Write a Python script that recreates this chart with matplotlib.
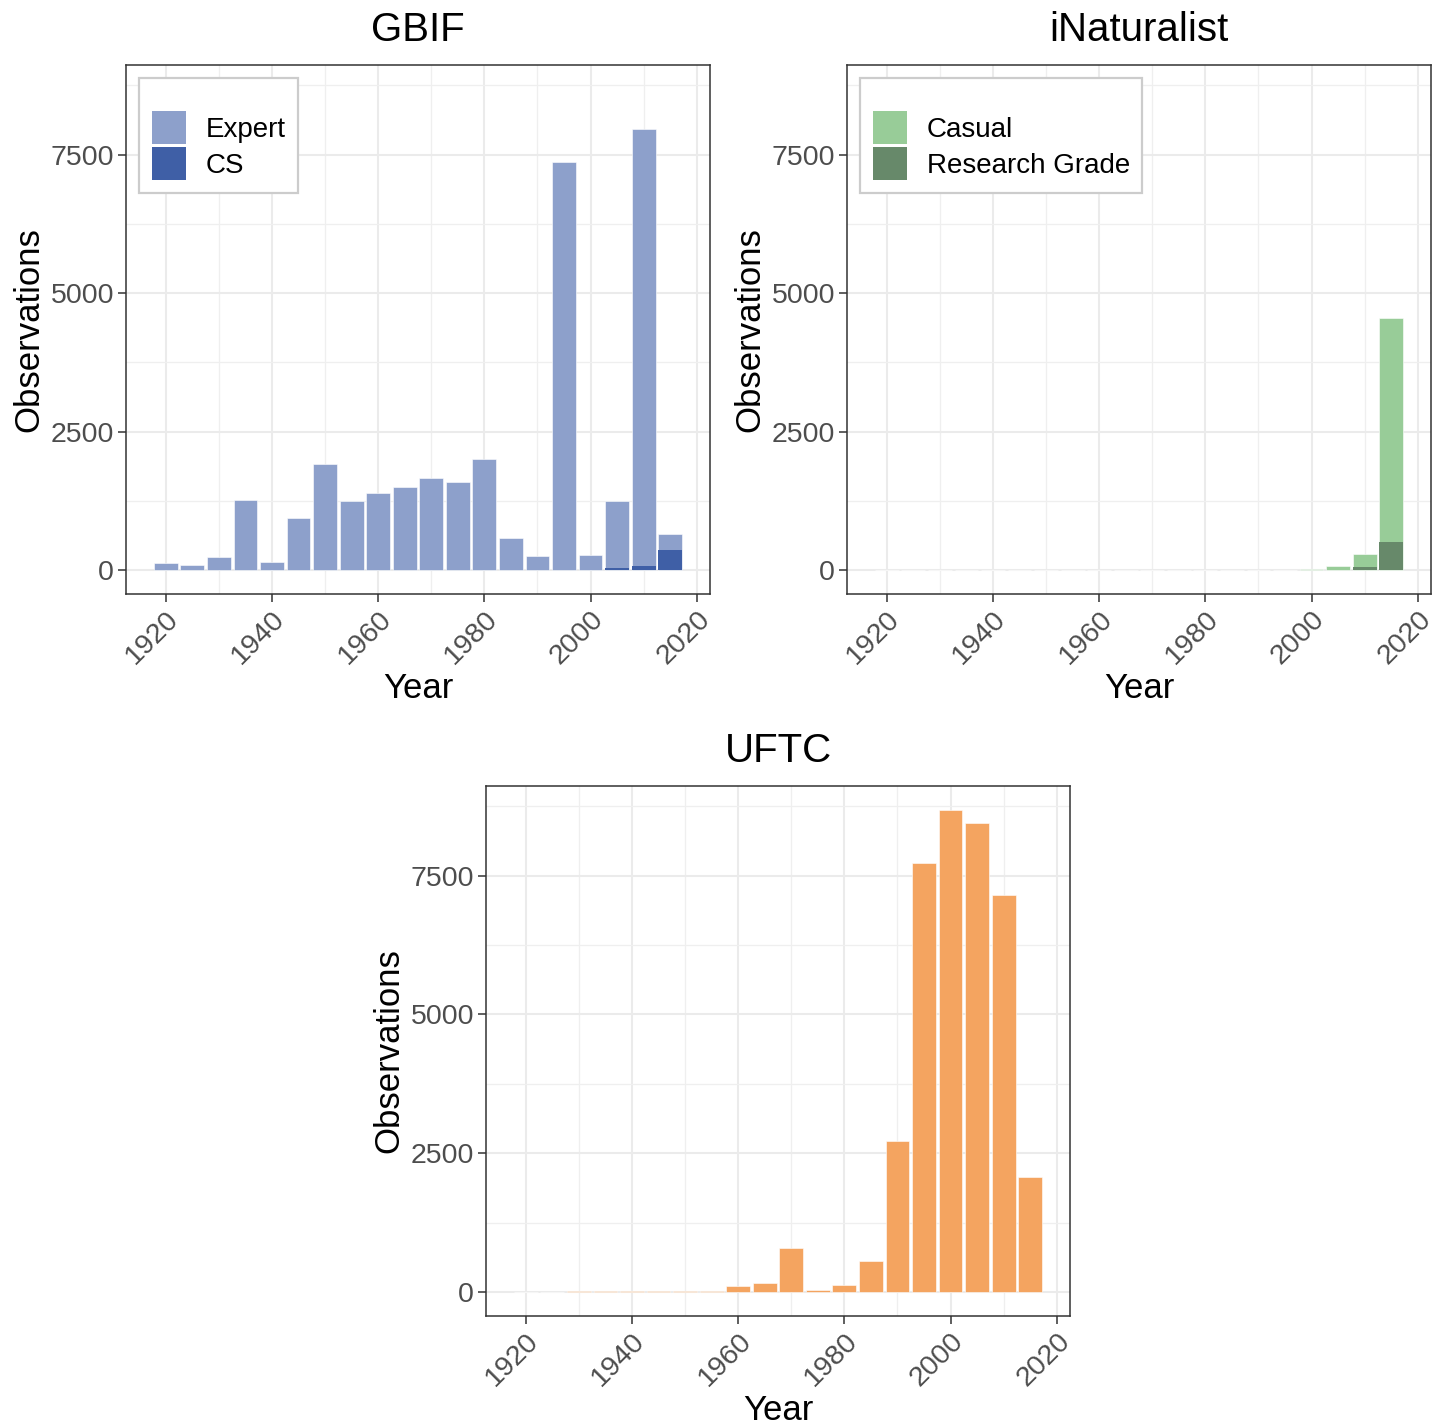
import numpy as np
import matplotlib
matplotlib.use("Agg")
import matplotlib.pyplot as plt
from matplotlib.patches import Patch

plt.rcParams["font.family"] = ["Liberation Sans", "DejaVu Sans"]

# 5-year bins, labelled by bin centre
years = [1920, 1925, 1930, 1935, 1940, 1945, 1950, 1955, 1960, 1965,
         1970, 1975, 1980, 1985, 1990, 1995, 2000, 2005, 2010, 2015]

gbif_expert = [125, 95, 227, 1260, 143, 932, 1905, 1254, 1398, 1505,
               1661, 1589, 1995, 573, 245, 7366, 275, 1242, 7957, 657]
gbif_cs = [0, 0, 0, 0, 0, 0, 0, 0, 0, 0,
           0, 0, 0, 0, 0, 0, 0, 30, 77, 353]

inat_casual = [0, 0, 0, 0, 0, 0, 0, 0, 0, 0,
               0, 0, 0, 0, 0, 0, 12, 77, 287, 4552]
inat_research = [0, 0, 0, 0, 0, 0, 0, 0, 0, 0,
                 0, 0, 0, 0, 0, 0, 0, 0, 50, 507]

uftc = [0, 0, 15, 20, 20, 20, 10, 10, 113, 161,
        784, 36, 126, 551, 2711, 7730, 8684, 8456, 7145, 2070]

W, H = 1442, 1424
fig = plt.figure(figsize=(W / 100, H / 100), dpi=100)

def px_axes(x0, y0, x1, y1):
    return fig.add_axes([x0 / W, 1 - y1 / H, (x1 - x0) / W, (y1 - y0) / H])

def style(ax, title):
    ax.set_xlim(1912.5, 2022.5)
    ax.set_ylim(-434, 9118)
    ax.set_xticks([1920, 1940, 1960, 1980, 2000, 2020])
    ax.set_xticks([1930, 1950, 1970, 1990, 2010], minor=True)
    ax.set_yticks([0, 2500, 5000, 7500])
    ax.set_yticks([1250, 3750, 6250, 8750], minor=True)
    ax.grid(which="major", color="#EBEBEB", linewidth=1.5)
    ax.grid(which="minor", color="#EFEFEF", linewidth=0.9)
    ax.set_axisbelow(True)
    for s in ax.spines.values():
        s.set_color("#333333")
        s.set_linewidth(1.1)
    ax.tick_params(which="major", length=5.5, width=1.1, color="#333333",
                   labelsize=20.5, labelcolor="#4D4D4D", pad=3)
    ax.tick_params(which="minor", length=0)
    for lab in ax.get_xticklabels():
        lab.set_rotation(45)
        lab.set_ha("right")
        lab.set_va("top")
        lab.set_rotation_mode("anchor")
    ax.set_title(title, fontsize=29, pad=17)
    ax.set_xlabel("Year", fontsize=25, labelpad=2)
    ax.set_ylabel("Observations", fontsize=25, labelpad=4)

def add_legend(ax, handles):
    leg = ax.legend(handles=handles, loc="upper left",
                    bbox_to_anchor=(13 / 584, 1 - 13 / 529),
                    borderaxespad=0, fontsize=20, title=" ",
                    title_fontsize=13, handlelength=1.25, handleheight=1.45,
                    labelspacing=0.12, handletextpad=0.7, borderpad=0.45,
                    fancybox=False, framealpha=1, edgecolor="#CCCCCC")
    leg.get_frame().set_linewidth(1.6)

bw = 4.5

# GBIF
ax1 = px_axes(126, 65, 710, 594)
ax1.bar(years, gbif_expert, width=bw, color="#8DA0CB", edgecolor="white", linewidth=0.4)
ax1.bar(years, gbif_cs, width=bw, color="#3F5FA6", edgecolor="none")
style(ax1, "GBIF")
add_legend(ax1, [Patch(facecolor="#8DA0CB", label="Expert"),
                 Patch(facecolor="#3F5FA6", label="CS")])

# iNaturalist
ax2 = px_axes(847, 65, 1431, 594)
ax2.bar(years, inat_casual, width=bw, color="#98CC98", edgecolor="white", linewidth=0.4)
ax2.bar(years, inat_research, width=bw, color="#67896A", edgecolor="none")
style(ax2, "iNaturalist")
add_legend(ax2, [Patch(facecolor="#98CC98", label="Casual"),
                 Patch(facecolor="#67896A", label="Research Grade")])

# UFTC
ax3 = px_axes(486, 786, 1070, 1316)
ax3.bar(years, uftc, width=bw, color="#F4A460", edgecolor="white", linewidth=0.4)
style(ax3, "UFTC")

fig.savefig("out.png", dpi=100)
